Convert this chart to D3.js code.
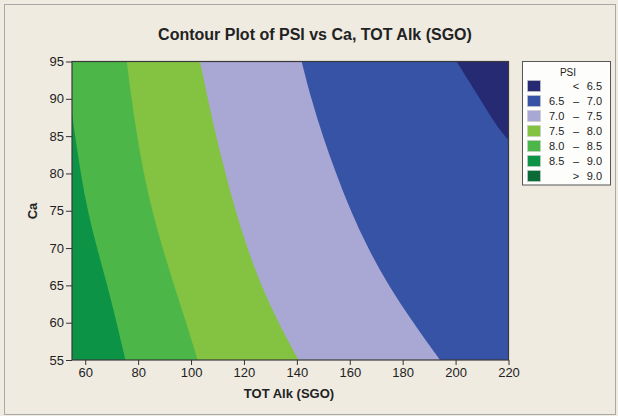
<!DOCTYPE html>
<html>
<head>
<meta charset="utf-8">
<script src="https://cdn.jsdelivr.net/npm/d3@7"></script>
<style>
  body { margin: 0; background: #efebe1; }
  text { font-family: "Liberation Sans", Arial, sans-serif; fill: #222; }
</style>
</head>
<body>
<svg id="chart" width="618" height="416"></svg>
<script>
// contour boundaries, [TOT Alk, Ca]
var line85 = [[55, 88.1], [56.1, 85.2], [58.3, 80], [60.9, 75], [64.4, 70], [68.4, 65], [71.9, 60], [75.2, 55]];
var line80 = [[75.7, 95], [77.5, 90], [79.6, 85], [82.1, 80], [85.3, 75], [89.2, 70], [93.6, 65], [98.2, 60], [102.5, 55]];
var line75 = [[103.4, 95], [106.3, 90], [109.5, 85], [113, 80], [116.8, 75], [121.2, 70], [126.5, 65], [133, 60], [140.6, 55]];
var line70 = [[141.8, 95], [145.4, 90], [149.8, 85], [154.8, 80], [160.3, 75], [166.8, 70], [174.6, 65], [184, 60], [194.1, 55]];
var line65 = [[200.4, 95], [209.2, 90], [214, 87.2], [218.1, 85.2], [220, 84.5]];

var legendLow = ["", "6.5", "7.0", "7.5", "8.0", "8.5", ""];
var legendHigh = ["6.5", "7.0", "7.5", "8.0", "8.5", "9.0", "9.0"];
var legendSign = ["<", "–", "–", "–", "–", "–", ">"];
var bandColors = ["#262a72", "#3753a5", "#a9a7d3", "#84c341", "#4cb748", "#0c9346", "#0b6b37"];

var xTicks = [60, 80, 100, 120, 140, 160, 180, 200, 220];
var yTicks = [55, 60, 65, 70, 75, 80, 85, 90, 95];
var xDomain = [55, 220];
var yDomain = [55, 95];

var svg = d3.select("#chart");

// outer frame
svg.append("rect").attr("x", 4.5).attr("y", 4.5).attr("width", 611).attr("height", 410)
    .attr("fill", "#efebe1").attr("stroke", "#a8a8a8");

svg.append("text").attr("x", 315).attr("y", 40).attr("text-anchor", "middle")
    .attr("font-size", 16).attr("font-weight", "bold")
    .text("Contour Plot of PSI vs Ca, TOT Alk (SGO)");

var x = d3.scaleLinear().domain(xDomain).range([72, 508.5]);
var y = d3.scaleLinear().domain(yDomain).range([360, 61.5]);

svg.append("clipPath").attr("id", "plotclip")
    .append("rect").attr("x", x(xDomain[0])).attr("y", y(yDomain[1]))
    .attr("width", x(xDomain[1]) - x(xDomain[0])).attr("height", y(yDomain[0]) - y(yDomain[1]));

var plot = svg.append("g").attr("clip-path", "url(#plotclip)");

// lowest band fills the whole area, then each band is the region left of its upper boundary
plot.append("rect").attr("x", x(xDomain[0])).attr("y", y(yDomain[1]))
    .attr("width", x(xDomain[1]) - x(xDomain[0])).attr("height", y(yDomain[0]) - y(yDomain[1]))
    .attr("fill", bandColors[0]);

function leftRegion(pts){
    var poly = pts.slice();
    var last = pts[pts.length-1];
    if(last[0] == xDomain[1]) poly.push([xDomain[1], yDomain[0]]);
    poly.push([xDomain[0], yDomain[0]]);
    if(pts[0][1] == yDomain[1]) poly.push([xDomain[0], yDomain[1]]);
    return poly;
}

var curve = d3.line().x(function(d){ return x(d[0]); }).y(function(d){ return y(d[1]); })
    .curve(d3.curveBasis);

[line65, line70, line75, line80, line85].forEach(function(pts, i){
    var poly = leftRegion(pts);
    var path = curve(pts);
    var rest = poly.slice(pts.length).map(function(d){ return "L" + x(d[0]) + "," + y(d[1]); }).join("");
    plot.append("path").attr("d", path + rest + "Z").attr("fill", bandColors[i+1]);
});

// plot frame
svg.append("rect").attr("x", x(xDomain[0])).attr("y", y(yDomain[1]))
    .attr("width", x(xDomain[1]) - x(xDomain[0])).attr("height", y(yDomain[0]) - y(yDomain[1]))
    .attr("fill", "none").attr("stroke", "#3a3a3a").attr("stroke-width", 1.2);

var xAxis = svg.append("g").attr("transform", "translate(0," + y(yDomain[0]) + ")")
    .call(d3.axisBottom(x).tickValues(xTicks).tickSize(5).tickPadding(3).tickFormat(d3.format("d")));
var yAxis = svg.append("g").attr("transform", "translate(" + x(xDomain[0]) + ",0)")
    .call(d3.axisLeft(y).tickValues(yTicks).tickSize(6).tickPadding(2).tickFormat(d3.format("d")));
[xAxis, yAxis].forEach(function(g){
    g.select(".domain").remove();
    g.selectAll("line").attr("stroke", "#333");
    g.selectAll("text").attr("font-size", 13).attr("fill", "#222")
        .style("font-family", "'Liberation Sans', Arial, sans-serif");
});

svg.append("text").attr("x", 289).attr("y", 398).attr("text-anchor", "middle")
    .attr("font-size", 13).attr("font-weight", "bold").text("TOT Alk (SGO)");
svg.append("text").attr("transform", "translate(37,211) rotate(-90)").attr("text-anchor", "middle")
    .attr("font-size", 13).attr("font-weight", "bold").text("Ca");

// legend
var lg = svg.append("g");
lg.append("rect").attr("x", 522.5).attr("y", 61.5).attr("width", 88).attr("height", 123.5)
    .attr("fill", "#fdfdfb").attr("stroke", "#555");
lg.append("text").attr("x", 568).attr("y", 76).attr("text-anchor", "middle")
    .attr("font-size", 10).text("PSI");
var rows = lg.selectAll("g.row").data(bandColors).enter().append("g").attr("class", "row")
    .attr("transform", function(d, i){ return "translate(0," + (86 + i * 15) + ")"; });
rows.append("rect").attr("x", 527.5).attr("y", -5.5).attr("width", 13).attr("height", 11)
    .attr("fill", function(d){ return d; }).attr("stroke", "#ccc").attr("stroke-width", 0.6);
rows.append("text").attr("x", 549).attr("y", 4).attr("font-size", 11)
    .text(function(d, i){ return legendLow[i]; });
rows.append("text").attr("x", 576).attr("y", 4).attr("text-anchor", "middle").attr("font-size", 11)
    .text(function(d, i){ return legendSign[i]; });
rows.append("text").attr("x", 602).attr("y", 4).attr("text-anchor", "end").attr("font-size", 11)
    .text(function(d, i){ return legendHigh[i]; });
</script>
</body>
</html>
